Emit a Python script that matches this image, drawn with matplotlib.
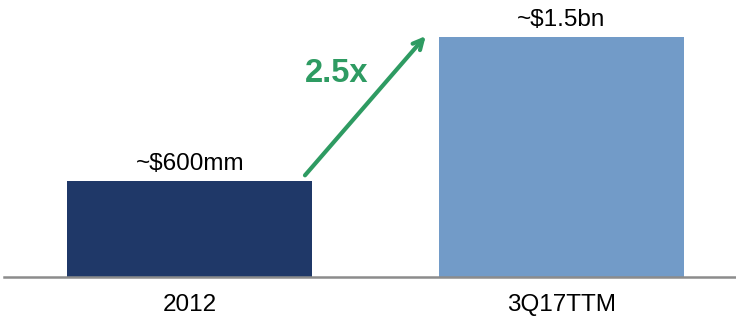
import matplotlib.pyplot as plt

plt.rcParams["font.family"] = ["Liberation Sans", "DejaVu Sans"]

# Data
periods = ["2012", "3Q17TTM"]
revenue_bn = [0.6, 1.5]
value_labels = ["~$600mm", "~$1.5bn"]
growth_label = "2.5x"

NAVY = "#1F3868"
LIGHT = "#729BC8"
GREEN = "#2E9B62"

fig = plt.figure(figsize=(7.36, 3.23), dpi=100)
ax = fig.add_axes([4 / 736, 46 / 323, 732 / 736, 277 / 323])

x = range(len(periods))
width = 0.66
bars = ax.bar(x, revenue_bn, width=width, color=[NAVY, LIGHT], zorder=2)

for bar, lab in zip(bars, value_labels):
    ax.annotate(lab, xy=(bar.get_x() + bar.get_width() / 2, bar.get_height()),
                xytext=(0, 4), textcoords="offset points",
                ha="center", va="bottom", fontsize=17.5, color="black")

# Growth arrow from bar 1 to bar 2
ax.annotate("", xy=(x[1] - 0.365, revenue_bn[1] + 0.005),
            xytext=(x[0] + 0.31, revenue_bn[0] + 0.035),
            arrowprops=dict(arrowstyle="->,head_length=0.7,head_width=0.35",
                            color=GREEN, lw=3, shrinkA=0, shrinkB=0))
ax.text(0.396, 1.27, growth_label, color=GREEN, fontsize=23.5,
        fontweight="bold", ha="center", va="center")

ax.set_xlim(-0.5, 1.47)
ax.set_ylim(0, 1.73)
ax.set_xticks(list(x))
ax.set_xticklabels(periods, fontsize=17.5)
ax.tick_params(axis="x", length=0, pad=12)
ax.set_yticks([])
for side in ["top", "right", "left"]:
    ax.spines[side].set_visible(False)
ax.spines["bottom"].set_color("#8C8C8C")
ax.spines["bottom"].set_linewidth(1.8)

plt.savefig("out.png", dpi=100)
plt.close()
